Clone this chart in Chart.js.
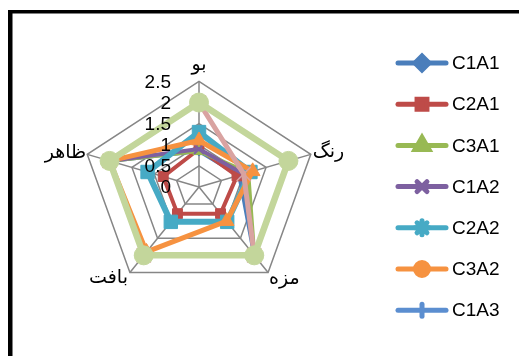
<!DOCTYPE html>
<html>
<head>
<meta charset="utf-8">
<script src="https://cdn.jsdelivr.net/npm/chart.js@4/dist/chart.umd.min.js"></script>
<style>
  html, body { margin: 0; padding: 0; background: #fff; }
  canvas { display: block; }
</style>
</head>
<body>
<canvas id="c" width="519" height="356"></canvas>
<script>
// ---- data ----
const categories = ['بو', 'رنگ', 'مزه', 'بافت', 'ظاهر'];
const seriesNames = ['C1A1', 'C2A1', 'C3A1', 'C1A2', 'C2A2', 'C3A2', 'C1A3', 'C2A3', 'C3A3'];
const C1A1 = [0.85, 0.9, 2.0, 2.0, 2.0];
const C2A1 = [0.9, 0.85, 0.78, 0.78, 0.8];
const C3A1 = [0.85, 1.1, 2.0, 2.0, 2.0];
const C1A2 = [0.9, 1.0, 2.0, 2.0, 2.0];
const C2A2 = [1.3, 1.15, 1.02, 1.02, 1.15];
const C3A2 = [1.1, 1.2, 1.0, 1.9, 2.0];
const C1A3 = [2.0, 2.0, 2.0, 2.0, 2.0];
const C2A3 = [2.0, 1.0, 2.0, 2.0, 2.0];
const C3A3 = [2.0, 2.0, 2.0, 2.0, 2.0];
const seriesValues = [C1A1, C2A1, C3A1, C1A2, C2A2, C3A2, C1A3, C2A3, C3A3];
const tickValues = [0, 0.5, 1, 1.5, 2, 2.5];
const tickLabels = ['0', '0.5', '1', '1.5', '2', '2.5'];
const legendCount = 7; // only the first 7 entries fit in the legend

// ---- styles ----
const lineColors = ['#4A7EBB', '#BE4B48', '#98B954', '#7D60A0', '#46AAC5', '#F69240', '#5B8ED0', '#D9A3A1', '#C3D69B'];
const chartPoint = [
  { style: 'rectRot', r: 5, bw: 1 },
  { style: 'rect', r: 7, bw: 1 },
  { style: 'triangle', r: 7, bw: 1 },
  { style: 'crossRot', r: 7, bw: 2 },
  { style: 'rect', r: 9.5, bw: 1 },
  { style: 'triangle', r: 8.5, bw: 1 },
  { style: 'cross', r: 9, bw: 1.5 },
  { style: 'crossRot', r: 10, bw: 1.5 },
  { style: 'circle', r: 9.5, bw: 1 }
];
const legendPoint = [
  { style: 'rectRot', r: 7, bw: 1 },
  { style: 'rect', r: 7, bw: 1 },
  { style: 'triangle', r: 8, bw: 1 },
  { style: 'crossRot', r: 7, bw: 2 },
  { style: 'star', r: 7, bw: 2 },
  { style: 'circle', r: 6.5, bw: 1 },
  { style: 'line', r: 6, bw: 2, rot: 90 }
];
const lineWidths = [4, 4, 4, 4, 6, 5, 4, 5, 6.5];

const SX = 1.113;           // horizontal stretch of the radar
const CX = 199, CY = 187, RAD = 105.6;

// stretch radar horizontally
const RL = Chart.RadialLinearScale;
const origGPP = RL.prototype.getPointPosition;
RL.prototype.getPointPosition = function (index, dist, add) {
  const p = origGPP.call(this, index, dist, add);
  return { x: this.xCenter + (p.x - this.xCenter) * SX, y: p.y, angle: p.angle };
};

const datasets = seriesNames.map((name, i) => ({
  label: name,
  data: seriesValues[i],
  borderColor: lineColors[i],
  backgroundColor: lineColors[i],
  pointBackgroundColor: lineColors[i],
  pointBorderColor: lineColors[i],
  pointStyle: chartPoint[i].style,
  pointRadius: chartPoint[i].r,
  pointBorderWidth: chartPoint[i].bw,
  pointHoverRadius: chartPoint[i].r,
  borderWidth: lineWidths[i],
  fill: false,
  tension: 0,
  borderJoinStyle: 'round',
  order: seriesNames.length - i
}));

const decor = {
  id: 'decor',
  afterDraw(chart) {
    const ctx = chart.ctx;
    const s = chart.scales.r;
    ctx.save();
    // frame
    ctx.fillStyle = '#000';
    ctx.fillRect(8, 10, 4.5, 346);
    ctx.fillRect(8, 10, 511, 3.5);

    // tick labels
    ctx.font = '19px "Liberation Sans", Arial, sans-serif';
    ctx.textAlign = 'right';
    ctx.textBaseline = 'middle';
    ctx.fillStyle = '#000';
    tickValues.forEach((v, i) => {
      const d = s.getDistanceFromCenterForValue(v);
      ctx.fillText(tickLabels[i], 171, s.yCenter - d + 1);
    });

    // point labels
    const pl = [
      { a: 'center', dx: 0, dy: -16 },
      { a: 'left', dx: 2, dy: -2 },
      { a: 'left', dx: 1, dy: 7 },
      { a: 'right', dx: -2, dy: 6 },
      { a: 'right', dx: -1, dy: -1 }
    ];
    ctx.font = '19px "DejaVu Sans", sans-serif';
    categories.forEach((c, i) => {
      const p = s.getPointPosition(i, s.drawingArea);
      ctx.textAlign = pl[i].a;
      ctx.fillText(c, p.x + pl[i].dx, p.y + pl[i].dy);
    });

    // legend
    ctx.font = '19px "Liberation Sans", Arial, sans-serif';
    ctx.textAlign = 'left';
    for (let i = 0; i < legendCount; i++) {
      const y = 63 + i * 41.2;
      ctx.strokeStyle = lineColors[i];
      ctx.lineWidth = 5;
      ctx.lineCap = 'round';
      ctx.beginPath();
      ctx.moveTo(398, y);
      ctx.lineTo(446, y);
      ctx.stroke();
      const lp = legendPoint[i];
      ctx.fillStyle = lineColors[i];
      Chart.helpers.drawPoint(ctx, {
        pointStyle: lp.style, radius: lp.r, borderWidth: lp.bw, rotation: lp.rot || 0
      }, 422, y);
      ctx.fillStyle = '#000';
      ctx.fillText(seriesNames[i], 452, y + 1);
    }
    ctx.restore();
  }
};

new Chart(document.getElementById('c'), {
  type: 'radar',
  data: { labels: categories, datasets },
  options: {
    responsive: false,
    animation: false,
    events: [],
    plugins: { legend: { display: false }, tooltip: { enabled: false } },
    layout: { padding: 0 },
    scales: {
      r: {
        min: 0,
        max: 2.5,
        ticks: { display: false, stepSize: 0.5 },
        pointLabels: { display: false },
        grid: { color: '#868686', lineWidth: 1.5 },
        angleLines: { color: '#868686', lineWidth: 1.5 },
        afterFit(s) {
          s.xCenter = CX;
          s.yCenter = CY;
          s.drawingArea = RAD;
        }
      }
    }
  },
  plugins: [decor]
});
</script>
</body>
</html>
